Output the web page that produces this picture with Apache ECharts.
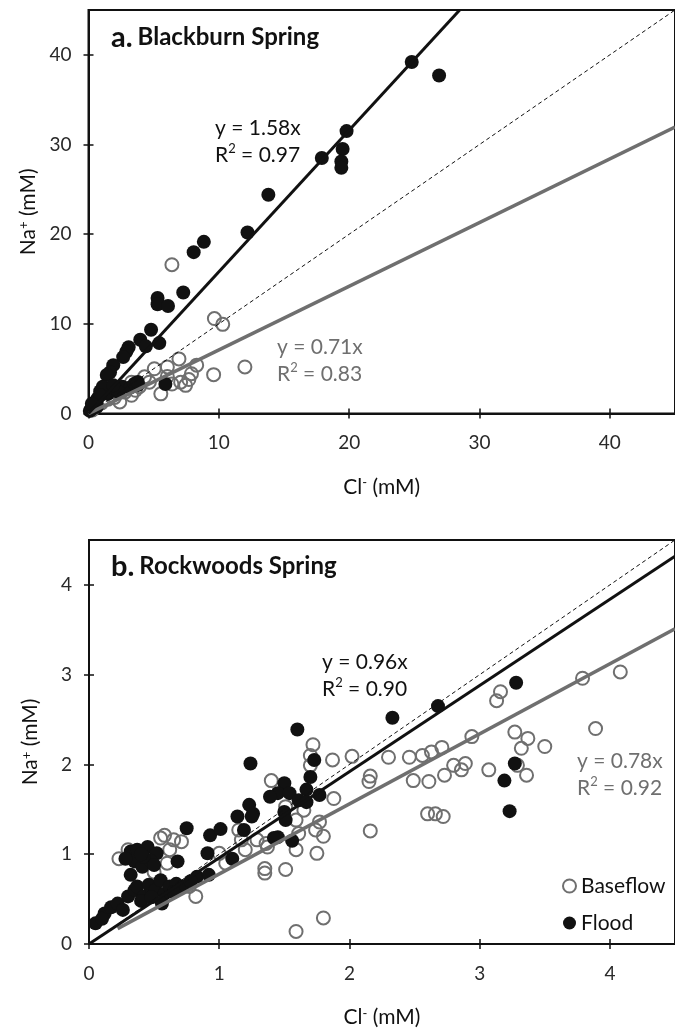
<!DOCTYPE html>
<html>
<head>
<meta charset="utf-8">
<script src="https://cdn.jsdelivr.net/npm/echarts@6/dist/echarts.min.js"></script>
<style>
  html, body { margin: 0; padding: 0; background: #fff; }
  #chart { width: 675px; height: 1029px; }
</style>
</head>
<body>
<div id="chart"></div>
<script>
// ---- Blackburn Spring (panel a): Cl- and Na+ in mM ----
const blackburnFloodCl = [24.8, 26.9, 19.8, 19.5, 19.4, 19.4, 17.9, 13.8, 12.2, 8.85, 8.07, 7.27, 5.3, 5.3, 6.1,
  4.8, 3.97, 5.43, 4.4, 3.08, 2.9, 2.66, 1.9, 1.65, 1.4, 5.9, 2.0, 2.6, 3.2, 3.8, 1.1, 0.9, 1.2, 0.7, 0.5,
  0.3, 0.2, 0.1, 0.6, 1.5, 1.8, 2.3, 0.63, 1.15, 1.9, 3.53, 3.78, 0.89, 0.26];
const blackburnFloodNa = [39.2, 37.7, 31.5, 29.5, 28.1, 27.4, 28.5, 24.4, 20.2, 19.15, 18.0, 13.5, 12.9, 12.2, 12.0,
  9.35, 8.24, 7.86, 7.5, 7.4, 6.9, 6.3, 5.4, 4.6, 4.3, 3.3, 2.6, 3.0, 2.9, 3.2, 3.0, 2.5, 2.3, 1.7, 1.3,
  0.9, 0.5, 0.3, 1.0, 2.2, 2.9, 2.4, 0.74, 2.96, 3.15, 3.34, 3.52, 2.04, 1.1];
const blackburnBaseCl = [6.4, 9.66, 10.3, 12.0, 9.6, 6.94, 8.3, 7.9, 7.7, 7.07, 7.45, 6.4, 6.05, 6.05, 5.05, 4.67,
  5.55, 4.3, 3.9, 3.3, 2.4, 3.3, 0.5, 1.0, 1.5, 2.0, 2.8, 3.6, 0.3];
const blackburnBaseNa = [16.6, 10.6, 9.95, 5.2, 4.34, 6.1, 5.4, 4.45, 3.8, 3.5, 3.15, 3.3, 5.2, 4.15, 5.0, 3.5,
  2.2, 4.1, 3.0, 2.04, 1.3, 3.5, 0.8, 1.2, 1.6, 1.8, 2.4, 2.6, 0.4];

// ---- Rockwoods Spring (panel b) ----
const rockwoodsFloodCl = [3.28, 2.68, 3.27, 3.19, 3.23, 2.33, 1.6, 1.73, 1.70, 1.67, 1.77, 1.5, 1.45, 1.39, 1.54,
  1.61, 1.67, 1.5, 1.51, 1.45, 1.56, 1.24, 1.23, 1.26, 0.75, 0.93, 1.01, 1.14, 1.25, 1.19, 0.91, 1.10, 0.68,
  1.42, 0.32, 0.37, 0.45, 0.52, 0.35, 0.41, 0.32, 0.47, 0.42, 0.05, 0.12, 0.17, 0.22, 0.30, 0.35, 0.37, 0.42,
  0.46, 0.51, 0.55, 0.58, 0.62, 0.67, 0.72, 0.56, 0.83, 0.92, 0.10, 0.26, 0.40, 0.48, 0.65, 0.78, 0.28, 0.40, 0.50];
const rockwoodsFloodNa = [2.91, 2.65, 2.01, 1.82, 1.48, 2.52, 2.39, 2.05, 1.86, 1.72, 1.66, 1.79, 1.68, 1.64, 1.68,
  1.60, 1.58, 1.47, 1.38, 1.19, 1.15, 2.01, 1.55, 1.45, 1.29, 1.21, 1.28, 1.42, 1.42, 1.27, 1.01, 0.95, 0.92,
  1.18, 1.03, 1.05, 1.08, 1.01, 0.92, 0.86, 0.77, 0.93, 0.97, 0.23, 0.34, 0.41, 0.45, 0.53, 0.60, 0.64, 0.53,
  0.66, 0.60, 0.71, 0.56, 0.64, 0.67, 0.64, 0.45, 0.75, 0.77, 0.28, 0.38, 0.48, 0.52, 0.58, 0.70, 0.95, 1.00, 0.88];
const rockwoodsBaseCl = [4.08, 3.79, 3.16, 3.13, 3.89, 2.94, 3.27, 3.37, 3.50, 3.32, 3.29, 3.36, 3.07, 2.71, 2.63,
  2.56, 2.80, 2.89, 2.86, 2.73, 2.61, 2.60, 2.66, 2.72, 1.72, 1.70, 1.70, 1.87, 2.02, 2.30, 2.46, 2.16, 2.15,
  2.49, 1.88, 2.16, 1.40, 1.65, 1.59, 1.77, 1.74, 1.80, 1.61, 1.59, 1.75, 1.51, 1.35, 1.35, 1.37, 1.29, 1.80,
  1.59, 1.51, 0.58, 0.65, 0.71, 0.62, 0.60, 0.23, 0.30, 0.50, 0.82, 1.00, 1.15, 1.17, 1.36, 0.77, 0.55, 1.05, 1.20];
const rockwoodsBaseNa = [3.03, 2.96, 2.81, 2.71, 2.40, 2.31, 2.36, 2.29, 2.20, 2.18, 1.99, 1.88, 1.94, 2.19, 2.14,
  2.10, 1.99, 2.01, 1.94, 1.88, 1.81, 1.45, 1.45, 1.42, 2.22, 2.10, 1.99, 2.05, 2.09, 2.08, 2.08, 1.87, 1.81,
  1.82, 1.62, 1.26, 1.82, 1.49, 1.38, 1.36, 1.27, 1.20, 1.23, 1.05, 1.01, 0.83, 0.84, 0.79, 1.08, 1.16, 0.29,
  0.14, 1.53, 1.21, 1.16, 1.14, 1.05, 0.90, 0.95, 1.05, 0.80, 0.53, 1.01, 1.27, 1.16, 1.12, 0.64, 1.18, 0.90, 1.05];

// Regression fits through the origin: [flood, baseflow]
const blackburnSlopes = [1.58, 0.71];
const blackburnR2 = [0.97, 0.83];
const rockwoodsSlopes = [0.96, 0.78];
const rockwoodsR2 = [0.90, 0.92];
const rockwoodsBaseFitStart = 0.22;   // baseflow fit drawn from this Cl- value

// Axis ranges and tick steps
const blackburnMax = 45, blackburnStep = 10;
const blackburnTicks = [0, 10, 20, 30, 40];
const rockwoodsMax = 4.5, rockwoodsStep = 1;
const rockwoodsTicks = [0, 1, 2, 3, 4];

const FONT = 'Lato, "Open Sans", sans-serif';
const INK = '#111';
const GREY = '#6f6f6f';
const LABEL = '#2a2a2a';

const pairs = (xs, ys) => xs.map((x, i) => [x, ys[i]]);

// segment of y = k x from x0 to where it leaves the plot
function fitLine(k, x0, max) {
  const x1 = Math.min(max, max / k);
  return [[x0, k * x0], [x1, k * x1]];
}

function axisPair(gridIndex, max, step, ticks, isX, name) {
  const main = {
    type: 'value', gridIndex, min: 0, max, interval: step,
    axisLine: { show: true, onZero: false, lineStyle: { color: INK, width: 2 } },
    axisTick: { show: true, inside: false, length: 5, customValues: ticks, lineStyle: { color: INK, width: 1.5 } },
    axisLabel: {
      show: true, customValues: ticks,
      margin: isX ? 20 : 17, fontSize: 19, color: LABEL, fontFamily: FONT
    },
    splitLine: { show: false },
    name, nameLocation: 'middle', nameGap: isX ? 63 : 48,
    nameTextStyle: {
      fontFamily: FONT, fontSize: 21, color: INK,
      rich: {
        n: { fontFamily: FONT, fontSize: 21, color: INK },
        s: { fontFamily: FONT, fontSize: 13, color: INK, verticalAlign: 'top', padding: [0, 0, 8, 0] }
      }
    }
  };
  const inner = {
    type: 'value', gridIndex, min: 0, max, interval: step,
    axisLine: { show: false },
    axisTick: { show: true, inside: true, length: 5, customValues: ticks, lineStyle: { color: INK, width: 1.5 } },
    axisLabel: { show: false },
    splitLine: { show: false }
  };
  if (isX) { main.position = 'bottom'; inner.position = 'bottom'; }
  else { main.position = 'left'; inner.position = 'left'; }
  return [main, inner];
}

const xName = '{n|Cl}{s|-}{n| (mM)}';
const yName = '{n|Na}{s|+}{n| (mM)}';

function panelSeries(axisIdx, base, flood, slopes, max, baseStart) {
  return [
    {
      name: 'Baseflow', type: 'scatter', xAxisIndex: axisIdx, yAxisIndex: axisIdx,
      data: base, symbolSize: 13, z: 2,
      itemStyle: { color: 'rgba(255,255,255,0)', borderColor: GREY, borderWidth: 2, opacity: 1 }
    },
    {
      name: 'Flood', type: 'scatter', xAxisIndex: axisIdx, yAxisIndex: axisIdx,
      data: flood, symbolSize: 14, z: 3,
      itemStyle: { color: INK, opacity: 1 }
    },
    {
      type: 'line', xAxisIndex: axisIdx, yAxisIndex: axisIdx, z: 5,
      data: fitLine(1, 0, max), symbol: 'none', silent: true,
      lineStyle: { color: INK, width: 1, type: [4, 3] }
    },
    {
      type: 'line', xAxisIndex: axisIdx, yAxisIndex: axisIdx, z: 6,
      data: fitLine(slopes[1], baseStart, max), symbol: 'none', silent: true,
      lineStyle: { color: GREY, width: 3.5 }
    },
    {
      type: 'line', xAxisIndex: axisIdx, yAxisIndex: axisIdx, z: 7,
      data: fitLine(slopes[0], 0, max), symbol: 'none', silent: true,
      lineStyle: { color: INK, width: 3 }
    }
  ];
}

function eqText(k, r2, left, top, color) {
  return {
    type: 'text', left, top, z: 20,
    style: {
      text: 'y = ' + k.toFixed(2) + 'x\n{n|R}{s|2}{n| = ' + r2.toFixed(2) + '}',
      fill: color, fontFamily: FONT, fontSize: 21, lineHeight: 27,
      rich: {
        n: { fill: color, fontFamily: FONT, fontSize: 21, lineHeight: 27 },
        s: { fill: color, fontFamily: FONT, fontSize: 13, verticalAlign: 'top', lineHeight: 20 }
      }
    }
  };
}

const [axA, axAin] = axisPair(0, blackburnMax, blackburnStep, blackburnTicks, true, xName);
const [ayA, ayAin] = axisPair(0, blackburnMax, blackburnStep, blackburnTicks, false, yName);
const [axB, axBin] = axisPair(1, rockwoodsMax, rockwoodsStep, rockwoodsTicks, true, xName);
const [ayB, ayBin] = axisPair(1, rockwoodsMax, rockwoodsStep, rockwoodsTicks, false, yName);

const titleRich = {
  l: { fontFamily: FONT, fontSize: 29, fontWeight: 'bold', color: INK },
  n: { fontFamily: FONT, fontSize: 24, fontWeight: 'bold', color: INK }
};

const option = {
  backgroundColor: '#fff',
  animation: false,
  grid: [
    { left: 88.5, top: 10, width: 596, height: 403.6, show: true, borderColor: INK, borderWidth: 2, backgroundColor: 'transparent' },
    { left: 89, top: 540, width: 598.5, height: 404.5, show: true, borderColor: INK, borderWidth: 2, backgroundColor: 'transparent' }
  ],
  xAxis: [axA, axAin, axB, axBin],
  yAxis: [ayA, ayAin, ayB, ayBin],
  title: [
    { text: '{l|a.} {n|Blackburn Spring}', left: 106, top: 18, textStyle: { rich: titleRich } },
    { text: '{l|b.} {n|Rockwoods Spring}', left: 106, top: 547, textStyle: { rich: titleRich } }
  ],
  legend: {
    data: ['Baseflow', 'Flood'], orient: 'vertical', left: 557, top: 870,
    icon: 'circle', itemWidth: 13, itemHeight: 13, itemGap: 15, selectedMode: false,
    textStyle: { fontFamily: FONT, fontSize: 21, color: INK, lineHeight: 22 }
  },
  graphic: [
    eqText(blackburnSlopes[0], blackburnR2[0], 215, 115, INK),
    eqText(blackburnSlopes[1], blackburnR2[1], 277, 334, GREY),
    eqText(rockwoodsSlopes[0], rockwoodsR2[0], 322, 649, INK),
    eqText(rockwoodsSlopes[1], rockwoodsR2[1], 577, 748, GREY)
  ],
  series: [
    ...panelSeries(0, pairs(blackburnBaseCl, blackburnBaseNa), pairs(blackburnFloodCl, blackburnFloodNa),
      blackburnSlopes, blackburnMax, 0),
    ...panelSeries(2, pairs(rockwoodsBaseCl, rockwoodsBaseNa), pairs(rockwoodsFloodCl, rockwoodsFloodNa),
      rockwoodsSlopes, rockwoodsMax, rockwoodsBaseFitStart)
  ]
};

echarts.init(document.getElementById('chart'), null, { renderer: 'canvas' }).setOption(option);
</script>
</body>
</html>
